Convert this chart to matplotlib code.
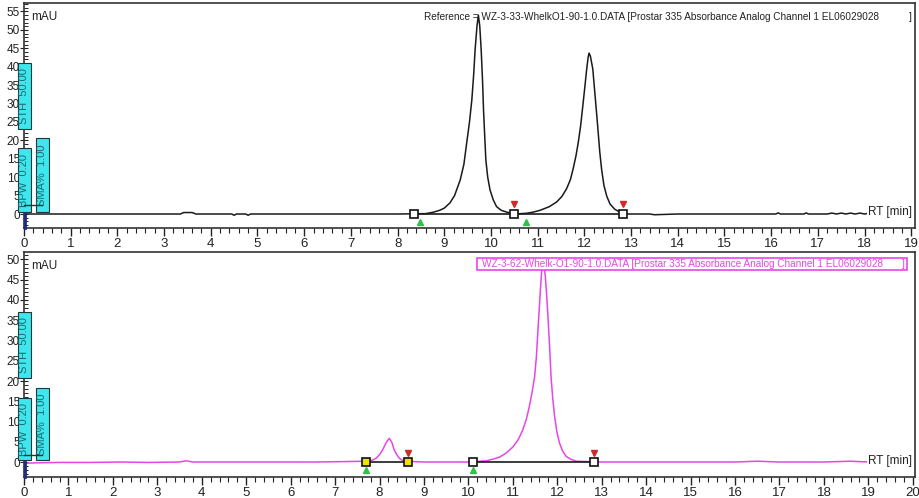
import matplotlib
matplotlib.use('Agg')
import matplotlib.pyplot as plt
from matplotlib.patches import Rectangle
from matplotlib.ticker import MultipleLocator

plt.rcParams['font.family'] = ['Liberation Sans', 'DejaVu Sans']

# ---- reference run (top, black) ----
ref_time = [0, 0.5, 1, 2, 3, 3.35, 3.42, 3.6, 3.68, 4, 4.45, 4.5, 4.55, 4.75, 4.8, 4.85,
            6, 7, 8, 8.6, 8.77, 8.9, 9.0, 9.12, 9.22, 9.34, 9.42, 9.48, 9.54, 9.59,
            9.63, 9.66, 9.70, 9.73, 9.76, 9.79, 9.82, 9.84, 9.87, 9.89, 9.93, 9.98,
            10.05, 10.12, 10.22, 10.34, 10.51,
            10.76, 10.9, 11.05, 11.25, 11.41, 11.52, 11.62, 11.7, 11.76, 11.82, 11.87,
            11.92, 11.96, 12.01, 12.05, 12.08, 12.10, 12.13, 12.18, 12.22, 12.26,
            12.30, 12.33, 12.37, 12.42, 12.48, 12.55, 12.65, 12.76, 12.9, 13.4,
            13.5, 14, 15, 16.1, 16.15, 16.2, 16.7, 16.75, 16.8, 17.2, 17.3, 17.4, 17.5,
            17.6, 17.7, 17.8, 17.9, 18.0, 18.1, 18.2, 18.4, 18.9]
ref_mau = [0, 0, 0, 0, 0, 0, 0.4, 0.4, 0, 0, 0, -0.35, 0, 0, -0.35, 0,
           0, 0, 0, 0.1, 0.5, 1.0, 1.6, 3.0, 5.0, 9.2, 13.5, 19.3, 25.0, 31.0,
           38.0, 44.6, 51.0, 54.0, 51.0, 44.6, 36.0, 28.3, 20.0, 14.7, 10.0, 6.5,
           3.8, 2.0, 1.0, 0.5, 0,
           0.2, 0.5, 1.0, 2.0, 3.3, 4.8, 6.9, 9.3, 12.3, 15.8, 19.5,
           24.0, 28.6, 34.5, 39.4, 42.5, 43.7, 42.8, 39.4, 33.5, 27.6,
           21.5, 16.8, 12.0, 7.7, 4.8, 2.7, 1.3, 0.5, 0, 0,
           -0.2, 0, 0, 0, 0.3, 0, 0, 0.3, 0, 0, 0.25, 0, 0.25, 0,
           0.25, 0, 0.25, 0, 0.25, 0, 0, 0]
ref_box_t = [8.36, 10.50, 12.83]
ref_start_t = [8.47, 10.76]
ref_end_t = [10.50, 12.83]
ref_base = [8.36, 12.83]

# ---- sample run (bottom, magenta) ----
smp_time = [0, 0.3, 0.8, 1.5, 2.2, 2.8, 3.5, 3.65, 3.8, 4.5, 5.5, 6.5, 7.2,
            7.73, 7.85, 7.92, 8.0, 8.07, 8.15, 8.22, 8.28, 8.33, 8.39, 8.45, 8.5, 8.56,
            9, 10, 10.40, 10.55, 10.70, 10.85, 11.0, 11.12, 11.22, 11.30, 11.37,
            11.43, 11.49, 11.53, 11.56, 11.59, 11.62, 11.645, 11.67, 11.70, 11.73,
            11.76, 11.79, 11.83, 11.86, 11.90, 11.94, 11.99, 12.05, 12.12, 12.20,
            12.30, 12.43, 13, 14, 15, 16, 16.5, 17, 18, 18.6, 19, 19.8]
smp_mau = [-0.3, -0.2, -0.1, -0.1, 0, -0.1, 0, 0.3, 0, 0, 0, 0, 0.1,
           0.2, 0.5, 0.9, 1.8, 3.0, 4.8, 5.85, 4.8, 3.0, 1.8, 0.9, 0.5, 0.2,
           0, 0, 0.3, 0.7, 1.2, 2.2, 3.7, 5.5, 7.8, 10.4, 13.6,
           17.0, 21.0, 26.0, 31.6, 37.0, 42.4, 46.5, 49.0, 48.5, 46.0,
           41.5, 36.0, 28.0, 21.0, 15.5, 11.3, 7.5, 4.7, 2.7, 1.4,
           0.7, 0.2, 0, 0, 0, 0, 0.2, 0, 0, 0.2, 0, 0]
smp_box_t = [7.70, 8.63, 10.10, 12.82]
smp_box_fill = ['#f2e200', '#f2e200', 'white', 'white']
smp_start_t = [7.70, 10.10]
smp_end_t = [8.63, 12.82]
smp_base = [[7.70, 8.63], [10.10, 12.82]]

W, H = 920, 498
fig = plt.figure(figsize=(W / 100, H / 100), dpi=100)
fig.patch.set_facecolor('white')

ax1 = fig.add_axes([24 / W, 1 - 228 / H, 891 / W, 225 / H])
ax2 = fig.add_axes([24 / W, 1 - 477 / H, 891 / W, 225 / H])

magenta = '#e845e8'

def style(ax, xmax, ymin, ymax):
    ax.set_xlim(0, xmax)
    ax.set_ylim(ymin, ymax)
    ax.xaxis.set_minor_locator(MultipleLocator(0.2))
    ax.yaxis.set_minor_locator(MultipleLocator(1))
    ax.tick_params(axis='x', which='major', direction='out', length=6, width=1,
                   labelsize=9.5, pad=1, colors='#222222')
    ax.tick_params(axis='x', which='minor', direction='out', length=3.5, width=0.8,
                   colors='#222222')
    ax.tick_params(axis='y', which='major', direction='inout', length=6, width=0.8,
                   labelsize=8.5, pad=0, colors='#222222')
    ax.tick_params(axis='y', which='minor', direction='in', length=3, width=0.7,
                   colors='#222222')
    for s in ax.spines.values():
        s.set_color('#333333')
        s.set_linewidth(1.2)
    ax.set_xticks(range(0, int(xmax) + 1))
    ax.set_yticks(range(0, int(ymax) + 1, 5))
    ax.text(0.008, 0.938, 'mAU', transform=ax.transAxes, fontsize=8.5,
            va='center', ha='left', color='#222222')
    ax.text(0.9966, 0.071, 'RT [min]', transform=ax.transAxes, fontsize=8.5,
            va='center', ha='right', color='#222222', zorder=8,
            bbox=dict(facecolor='white', edgecolor='none', pad=0.5))
    ax.plot([0.03, 0.03], [0, ymin], color='#1e2a8a', lw=2, zorder=5,
            clip_on=False)

# top panel
style(ax1, 19.08, -3.8, 57.3)
ax1.plot(ref_time, ref_mau, color='#1a1a1a', lw=1.1)
ax1.plot(ref_base, [0, 0], color='#1a1a1a', lw=1.2)
ax1.plot(ref_box_t, [0] * len(ref_box_t), 's', ms=6, mfc='white', mec='#111111',
         mew=1.2, zorder=4)
ax1.plot(ref_end_t, [2.6] * len(ref_end_t), 'v', ms=5, color='#d02a2a', zorder=4)
ax1.plot(ref_start_t, [-2.3] * len(ref_start_t), '^', ms=5, color='#2fc24a',
         zorder=4)
ax1.text(0.449, 0.938, 'Reference = WZ-3-33-WhelkO1-90-1.0.DATA [Prostar 335 '
         'Absorbance Analog Channel 1 EL06029028', transform=ax1.transAxes,
         fontsize=7.2, va='center', ha='left', color='#222222')
ax1.text(0.9966, 0.938, ']', transform=ax1.transAxes, fontsize=7.2,
         va='center', ha='right', color='#222222')

# bottom panel
style(ax2, 20.05, -3.7, 51.85)
ax2.plot(smp_time, smp_mau, color=magenta, lw=1.1)
for seg in smp_base:
    ax2.plot(seg, [0, 0], color='#1a1a1a', lw=1.2)
for t, fc in zip(smp_box_t, smp_box_fill):
    ax2.plot([t], [0], 's', ms=6, mfc=fc, mec='#111111', mew=1.2, zorder=4)
ax2.plot(smp_end_t, [2.2] * len(smp_end_t), 'v', ms=5, color='#d02a2a', zorder=4)
ax2.plot(smp_start_t, [-2.0] * len(smp_start_t), '^', ms=5, color='#2fc24a',
         zorder=4)
ax2.add_patch(Rectangle(((477 - 24) / 891, (477 - 270) / 225), 430 / 891, 12 / 225,
                        transform=ax2.transAxes, facecolor='white',
                        edgecolor=magenta, lw=1.2, zorder=6))
ax2.text((482 - 24) / 891, (477 - 264) / 225, 'WZ-3-62-Whelk-O1-90-1.0.DATA [Prostar 335 '
         'Absorbance Analog Channel 1 EL06029028', transform=ax2.transAxes,
         fontsize=7.2, va='center', ha='left', color=magenta, zorder=7)
ax2.text((905 - 24) / 891, (477 - 264) / 225, ']', transform=ax2.transAxes,
         fontsize=7.2, va='center', ha='right', color=magenta, zorder=7)

# cyan parameter flags on the y axis (pixel positions)
flags = [('STH 50.00', 18, 63, 13, 66), ('BPW 0.20', 18, 148, 13, 64),
         ('SMA% 1.00', 36, 138, 13, 74),
         ('STH 50.00', 18, 312, 13, 66), ('BPW 0.20', 18, 398, 13, 62),
         ('SMA% 1.00', 36, 388, 13, 72)]
for label, x0, y0, w, h in flags:
    fig.patches.append(Rectangle((x0 / W, 1 - (y0 + h) / H), w / W, h / H,
                                 transform=fig.transFigure, facecolor='#3ee6ee',
                                 edgecolor='#1a3a3a', lw=0.8, zorder=10))
    fig.text((x0 + w / 2) / W, 1 - (y0 + h / 2) / H, '  '.join(label.split(' ')),
             rotation=90, ha='center', va='center', fontsize=8,
             color='#1a6a70', zorder=11)
for yb in [205, 455]:
    fig.lines.append(plt.Line2D([24 / W, 42 / W], [1 - yb / H, 1 - yb / H],
                                transform=fig.transFigure, color='#1a3a3a',
                                lw=1, zorder=12))

fig.savefig('out.png', dpi=100)
